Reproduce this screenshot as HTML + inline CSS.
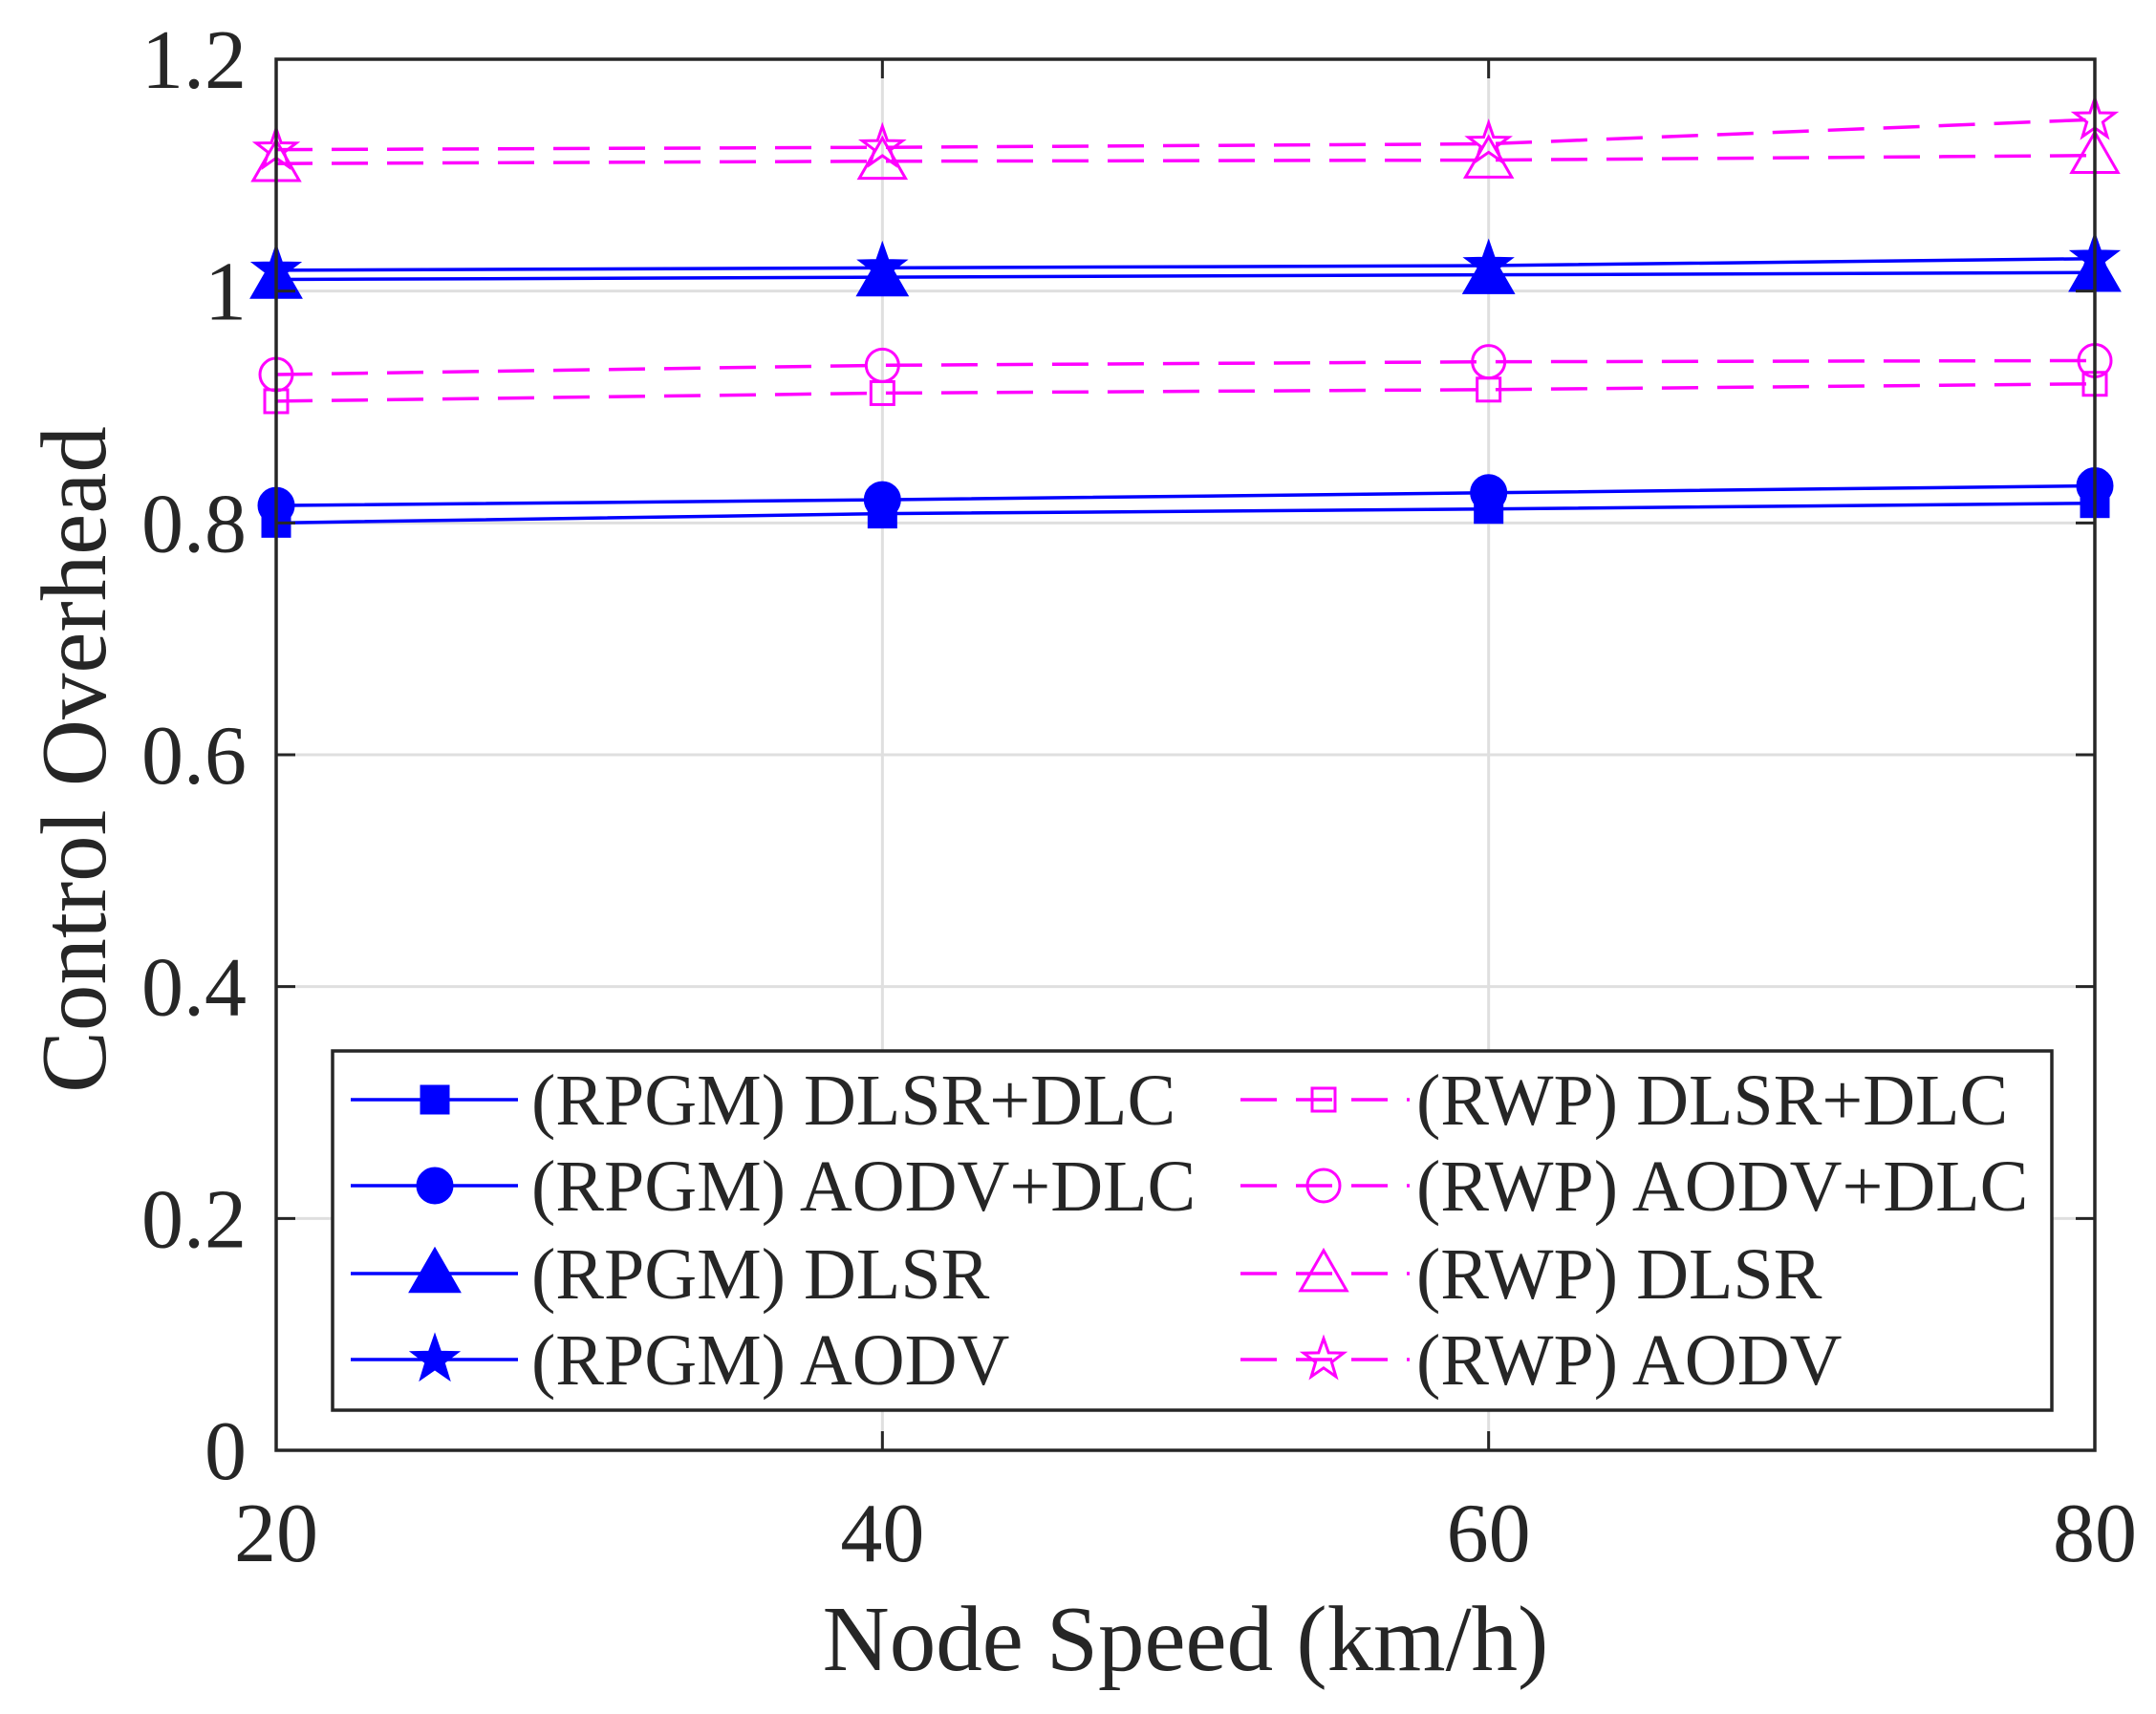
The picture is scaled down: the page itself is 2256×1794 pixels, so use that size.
<!DOCTYPE html>
<html><head><meta charset="utf-8"><style>
html,body{margin:0;padding:0;background:#fff}
svg{display:block}
text{font-family:"Liberation Serif",serif;fill:#262626}
</style></head><body>
<svg id="chart" width="2256" height="1794" viewBox="0 0 2256 1794" xmlns="http://www.w3.org/2000/svg">
<g id="grid"></g>
<g id="series"></g>
<g id="axes"></g>
<g id="legend"></g>
</svg>
<script>
const categories = [20, 40, 60, 80];
const xTicks = [20, 40, 60, 80];
const yTicks = [0, 0.2, 0.4, 0.6, 0.8, 1, 1.2];
const yTickLabels = ["0", "0.2", "0.4", "0.6", "0.8", "1", "1.2"];
const rpgmDlsrDlc = [0.800, 0.808, 0.812, 0.817];
const rpgmAodvDlc = [0.815, 0.820, 0.826, 0.832];
const rpgmDlsr = [1.010, 1.012, 1.014, 1.016];
const rpgmAodv = [1.018, 1.020, 1.022, 1.028];
const rwpDlsrDlc = [0.905, 0.912, 0.915, 0.920];
const rwpAodvDlc = [0.928, 0.936, 0.939, 0.940];
const rwpDlsr = [1.110, 1.112, 1.113, 1.117];
const rwpAodv = [1.122, 1.124, 1.127, 1.148];
const seriesNames = ["(RPGM) DLSR+DLC","(RPGM) AODV+DLC","(RPGM) DLSR","(RPGM) AODV","(RWP) DLSR+DLC","(RWP) AODV+DLC","(RWP) DLSR","(RWP) AODV"];

const NS="http://www.w3.org/2000/svg";
const L=289,R=2192,T=62,B=1518;
const xS=v=>L+(v-20)/60*(R-L);
const yS=v=>B-v/1.2*(B-T);
function mk(tag,attrs,parent){const e=document.createElementNS(NS,tag);for(const k in attrs)e.setAttribute(k,attrs[k]);parent.appendChild(e);return e;}
const grid=document.getElementById('grid'),axes=document.getElementById('axes'),ser=document.getElementById('series'),leg=document.getElementById('legend');

xTicks.forEach(v=>{
  const g=mk('line',{x1:xS(v),x2:xS(v),y1:T,y2:B,stroke:'#dfdfdf','stroke-width':3},grid);
  
  
  const t=mk('text',{x:xS(v),y:1634,'text-anchor':'middle','font-size':88},axes);t.textContent=v;
  
  
  mk('line',{x1:xS(v),x2:xS(v),y1:B,y2:B-20,stroke:'#262626','stroke-width':3},axes);
  mk('line',{x1:xS(v),x2:xS(v),y1:T,y2:T+20,stroke:'#262626','stroke-width':3},axes);
});
yTicks.forEach((v,i)=>{
  const g=mk('line',{x1:L,x2:R,y1:yS(v),y2:yS(v),stroke:'#dfdfdf','stroke-width':3},grid);
  
  
  const t=mk('text',{x:258,y:yS(v)+30,'text-anchor':'end','font-size':88},axes);t.textContent=yTickLabels[i];
  
  
  mk('line',{x1:L,x2:L+20,y1:yS(v),y2:yS(v),stroke:'#262626','stroke-width':3},axes);
  mk('line',{x1:R,x2:R-20,y1:yS(v),y2:yS(v),stroke:'#262626','stroke-width':3},axes);
});
const frame=mk('rect',{x:L,y:T,width:R-L,height:B-T,fill:'none',stroke:'#262626','stroke-width':3.5},axes);


const xt=mk('text',{x:(L+R)/2,y:1748,'text-anchor':'middle','font-size':97},axes);xt.textContent='Node Speed (km/h)';


const yt=mk('text',{x:0,y:0,'text-anchor':'middle','font-size':97,transform:'translate(110,795) rotate(-90)'},axes);yt.textContent='Control Overhead';



function marker(type,cx,cy,color,filled,parent){
  const f=filled?color:'none',sw=3;
  if(type==='sq'){const s=filled?28:24;return mk('rect',{x:cx-s/2,y:cy-s/2,width:s,height:s,fill:f,stroke:color,'stroke-width':sw},parent);}
  if(type==='ci'){const r=filled?18:17;return mk('circle',{cx,cy,r,fill:f,stroke:color,'stroke-width':sw},parent);}
  if(type==='tr'){const s=filled?22:21;return mk('polygon',{points:`${cx},${cy-s*1.15} ${cx-s*1.15},${cy+s*0.85} ${cx+s*1.15},${cy+s*0.85}`,fill:f,stroke:color,'stroke-width':sw},parent);}
  const ro=filled?24:22,ri=ro*0.4;let p=[];
  for(let i=0;i<10;i++){const a=-Math.PI/2+i*Math.PI/5,r=i%2?ri:ro;p.push((cx+r*Math.cos(a)).toFixed(1)+','+(cy+r*Math.sin(a)).toFixed(1));}
  return mk('polygon',{points:p.join(' '),fill:f,stroke:color,'stroke-width':sw},parent);
}
const allSeries=[rpgmDlsrDlc,rpgmAodvDlc,rpgmDlsr,rpgmAodv,rwpDlsrDlc,rwpAodvDlc,rwpDlsr,rwpAodv];
const types=['sq','ci','tr','st','sq','ci','tr','st'];
allSeries.forEach((vals,si)=>{
  const blue=si<4,color=blue?'#0000ff':'#ff00ff';
  const g=mk('g',{},ser);
  
  
  const pts=vals.map((v,i)=>xS(categories[i])+','+yS(v)).join(' ');
  const pl=mk('polyline',{points:pts,fill:'none',stroke:color,'stroke-width':3.5,'stroke-dasharray':blue?'none':'38,20'},g);
  
  
  vals.forEach((v,i)=>{
    const m=marker(types[si],xS(categories[i]),yS(v),color,blue,g);
    
    
  });
});
// legend
const lb=mk('rect',{x:348,y:1100,width:1799,height:376,fill:'#fff',stroke:'#262626','stroke-width':3.5},leg);


const rows=[1151,1241,1333,1423];
seriesNames.forEach((n,si)=>{
  const blue=si<4,color=blue?'#0000ff':'#ff00ff',y=rows[si%4];
  const x0=blue?367:1298,x1=blue?542:1475,mx=blue?455:1385,tx=blue?556:1482;
  const g=mk('g',{},leg);
  
  
  mk('line',{x1:x0,x2:x1,y1:y,y2:y,stroke:color,'stroke-width':3.5,'stroke-dasharray':blue?'none':'38,20'},g);
  marker(types[si],mx,y,color,blue,g);
  const t=mk('text',{x:tx,y:y+26,'font-size':76},g);t.textContent=n;
});
</script>
</body></html>
